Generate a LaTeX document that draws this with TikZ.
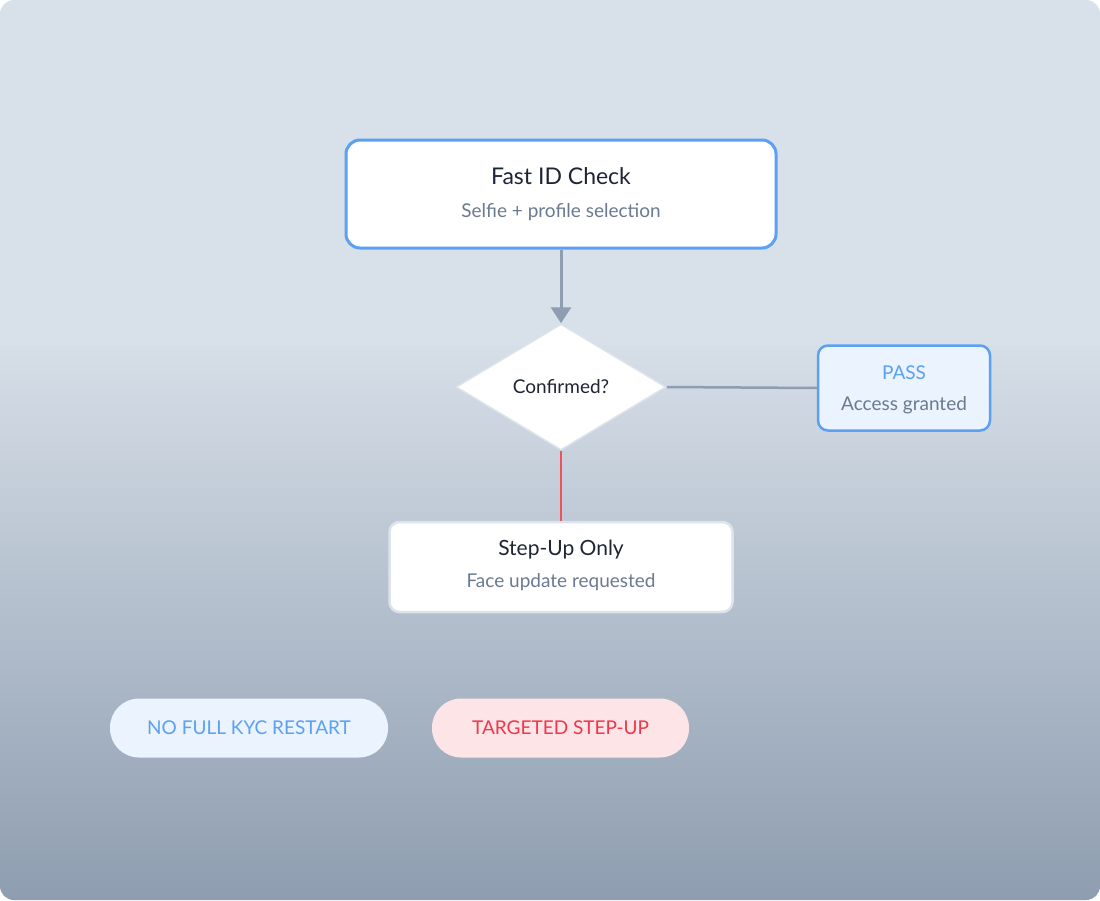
\documentclass[tikz,border=0pt]{standalone}
\usepackage{fontspec}
\setmainfont{Lato}
\usetikzlibrary{shapes.geometric,arrows.meta}
\definecolor{blueB}{HTML}{5BA0F2}
\definecolor{grayT}{HTML}{6B7A90}
\definecolor{darkT}{HTML}{1E2535}
\definecolor{lineG}{HTML}{8E9DB0}
\definecolor{redL}{HTML}{F0525A}
\definecolor{redT}{HTML}{F0364A}
\definecolor{paleB}{HTML}{EAF3FE}
\definecolor{paleR}{HTML}{FDE4E6}
\definecolor{edgeG}{HTML}{DCE3EA}
\definecolor{bgTop}{HTML}{D8E0E9}
\definecolor{bgBot}{HTML}{8E9DB0}
\tikzset{
  x=1pt,y=-1pt,
  box/.style={draw,rounded corners=14pt,fill=white,inner sep=0pt},
  ttl/.style={font=\fontsize{23}{27}\selectfont,text=darkT},
  sub/.style={font=\fontsize{19}{23}\selectfont,text=grayT},
  pill/.style={rounded corners=29pt,inner sep=0pt,minimum height=59pt,font=\fontsize{19}{23}\selectfont},
}
\begin{document}
\begin{tikzpicture}
\useasboundingbox (0,0) rectangle (1100,900);
\fill[bgTop,rounded corners=14pt] (0,0) rectangle (1100,340);
\shade[top color=bgTop,bottom color=bgBot,rounded corners=14pt] (0,330) rectangle (1100,900);
\fill[bgTop] (0,320) rectangle (1100,345);
\node[box,draw=blueB,line width=3pt,minimum width=430pt,minimum height=108pt] (fast) at (561,194) {};
\node[ttl] at (561,176) {Fast ID Check};
\node[sub] at (561,212) {Selfie + profile selection};
\node[diamond,draw=edgeG,line width=1.5pt,fill=white,minimum width=210pt,minimum height=126pt,inner sep=0pt,aspect=1.67] (conf) at (561,387) {};
\node[font=\fontsize{19}{23}\selectfont,text=darkT] at (561,387) {Confirmed?};
\node[box,draw=blueB,line width=2.5pt,fill=paleB,rounded corners=10pt,minimum width=172pt,minimum height=85pt] (pass) at (904,388) {};
\node[font=\fontsize{19}{23}\selectfont,text=blueB] at (904,373) {PASS};
\node[sub] at (904,405) {Access granted};
\node[box,draw=edgeG,line width=2.5pt,rounded corners=10pt,minimum width=343pt,minimum height=90pt] (step) at (561,567) {};
\node[ttl,font=\fontsize{21}{25}\selectfont] at (561,550) {Step-Up Only};
\node[sub] at (561,582) {Face update requested};
\draw[lineG,line width=3pt,-{Triangle[length=16pt,width=20pt]}] (fast.south) -- (conf.north);
\draw[lineG,line width=2.5pt] (conf.east) -- (pass.west);
\draw[redL,line width=2.5pt] (conf.south) -- (step.north);
\node[pill,fill=paleB,text=blueB,minimum width=278pt] (p1) at (249,728) {NO FULL KYC RESTART};
\node[pill,fill=paleR,text=redT,minimum width=257pt] (p2) at (560.5,728) {TARGETED STEP-UP};
\end{tikzpicture}
\end{document}
